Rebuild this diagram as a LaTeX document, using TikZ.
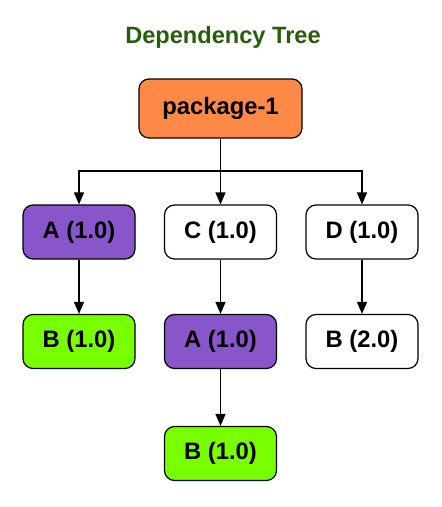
\documentclass[tikz,border=0pt]{standalone}
\usepackage{fontspec}
\setmainfont{Liberation Sans}
\usetikzlibrary{arrows.meta}
\definecolor{titlegreen}{RGB}{38,94,10}
\definecolor{orangefill}{RGB}{255,138,72}
\definecolor{purplefill}{RGB}{136,86,202}
\definecolor{greenfill}{RGB}{120,255,0}
\tikzset{
  box/.style={draw=black, line width=1.2pt, rounded corners=10pt, minimum width=112pt, minimum height=54pt, inner sep=0pt, font=\fontsize{23.8}{28}\selectfont\bfseries},
  conn/.style={draw=black, line width=1.5pt},
  arr/.style={conn, -{Triangle[width=10pt,length=12pt]}}
}
\begin{document}
\begin{tikzpicture}[x=1pt,y=-1pt]
\useasboundingbox (0,0) rectangle (442,507);
\node[font=\fontsize{23.6}{28}\selectfont\bfseries, text=titlegreen] (title) at (223,37) {Dependency Tree};
\node[box, fill=orangefill, minimum width=163pt, minimum height=59pt] (p) at (220.5,108.5) {package-1};
\node[box, fill=purplefill] (a1) at (79,232) {A (1.0)};
\node[box, fill=white] (c1) at (220.5,232) {C (1.0)};
\node[box, fill=white] (d1) at (362,232) {D (1.0)};
\node[box, fill=greenfill] (b1) at (79,341.5) {B (1.0)};
\node[box, fill=purplefill] (a2) at (220.5,341.5) {A (1.0)};
\node[box, fill=white] (b2) at (362,341.5) {B (2.0)};
\node[box, fill=greenfill] (b3) at (220.5,453.5) {B (1.0)};
\coordinate (j) at (220.5,171);
\draw[conn] (p.south) -- (j);
\draw[arr] (j) -| (a1.north);
\draw[arr] (j) -- (c1.north);
\draw[arr] (j) -| (d1.north);
\draw[arr] (a1.south) -- (b1.north);
\draw[arr] (c1.south) -- (a2.north);
\draw[arr] (d1.south) -- (b2.north);
\draw[arr] (a2.south) -- (b3.north);
\end{tikzpicture}
\end{document}
